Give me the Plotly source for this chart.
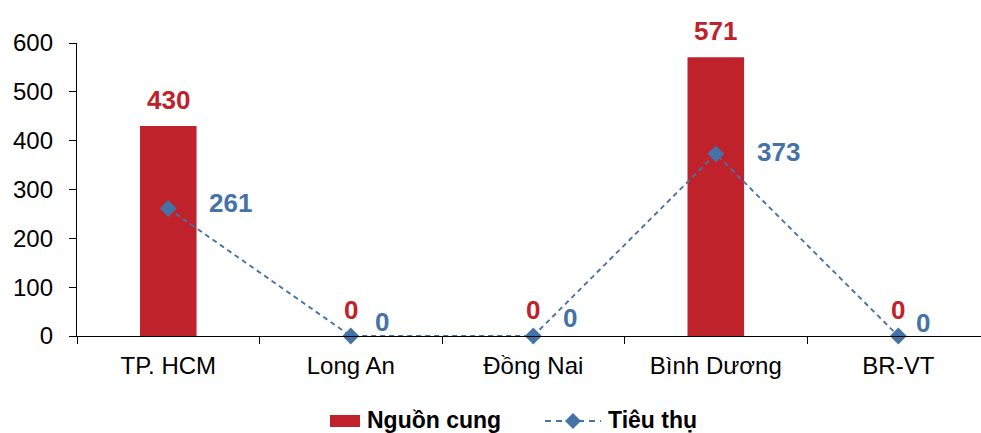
import plotly.graph_objects as go

# Regions and values (units)
regions = ["TP. HCM", "Long An", "Đồng Nai", "Bình Dương", "BR-VT"]
supply = [430, 0, 0, 571, 0]        # Nguồn cung
consumption = [261, 0, 0, 373, 0]   # Tiêu thụ

# Per-point label nudges for the consumption labels (pixels: right, up)
cons_label_shift = [(62, 6), (31, 14), (37, 18), (63, 2), (25, 13)]

RED = "#C0222B"
BLUE = "#4573A7"
FONT = "Liberation Sans, Arial, sans-serif"
TICK_SIZE = 24
LABEL_SIZE = 26
LEGEND_SIZE = 23

W, H = 981, 433
ML, MR, MT, MB = 77, 0, 43, 97
PW, PH = W - ML - MR, H - MT - MB

fig = go.Figure()

fig.add_trace(go.Bar(
    x=regions, y=supply, name="Nguồn cung",
    marker=dict(color=RED, line=dict(width=0)),
    width=0.31, showlegend=False,
))

fig.add_trace(go.Scatter(
    x=regions, y=consumption, name="Tiêu thụ", mode="lines+markers",
    line=dict(color=BLUE, width=1.9, dash="5px,4px"),
    marker=dict(symbol="diamond", size=13, color=BLUE),
    showlegend=False, cliponaxis=False,
))

annotations = []
for r, v in zip(regions, supply):
    annotations.append(dict(
        x=r, y=v, text=f"<b>{v}</b>", showarrow=False,
        xanchor="center", yanchor="bottom", yshift=9,
        font=dict(family=FONT, size=LABEL_SIZE, color=RED),
    ))
for r, v, (dx, dy) in zip(regions, consumption, cons_label_shift):
    annotations.append(dict(
        x=r, y=v, text=f"<b>{v}</b>", showarrow=False,
        xanchor="center", yanchor="middle", xshift=dx, yshift=dy,
        font=dict(family=FONT, size=LABEL_SIZE, color=BLUE),
    ))


def px_x(p):
    return (p - ML) / PW


def px_y(p):
    return (H - MB - p) / PH


# Legend drawn below the plot
LEG_Y = 420
shapes = [
    dict(type="rect", xref="paper", yref="paper",
         x0=px_x(330), x1=px_x(360), y0=px_y(427), y1=px_y(415),
         fillcolor=RED, line=dict(width=0)),
    dict(type="line", xref="paper", yref="paper",
         x0=px_x(545), x1=px_x(601), y0=px_y(421), y1=px_y(421),
         line=dict(color=BLUE, width=1.9, dash="6px,5px")),
    dict(type="path", xref="paper", yref="paper",
         xsizemode="pixel", ysizemode="pixel",
         xanchor=px_x(573), yanchor=px_y(421),
         path="M 0 8 L 8 0 L 0 -8 L -8 0 Z",
         fillcolor=BLUE, line=dict(width=0)),
]
annotations += [
    dict(xref="paper", yref="paper", x=px_x(365), y=px_y(LEG_Y),
         text="<b>Nguồn cung</b>", showarrow=False,
         xanchor="left", yanchor="middle",
         font=dict(family=FONT, size=LEGEND_SIZE, color="#000000")),
    dict(xref="paper", yref="paper", x=px_x(606), y=px_y(LEG_Y),
         text="<b>Tiêu thụ</b>", showarrow=False,
         xanchor="left", yanchor="middle",
         font=dict(family=FONT, size=LEGEND_SIZE, color="#000000")),
]

fig.update_layout(
    width=W, height=H,
    margin=dict(l=ML, r=MR, t=MT, b=MB, pad=0),
    paper_bgcolor="white", plot_bgcolor="white",
    font=dict(family=FONT, size=TICK_SIZE, color="#000000"),
    annotations=annotations, shapes=shapes,
    showlegend=False,
)

fig.update_xaxes(
    type="category", range=[-0.5, 4.453],
    showline=True, linecolor="#000000", linewidth=1.3,
    ticks="outside", tickson="boundaries", ticklen=7, tickwidth=1.3,
    tickcolor="#000000", showgrid=False, zeroline=False,
    tickfont=dict(family=FONT, size=TICK_SIZE, color="#000000"),
    ticklabelstandoff=8,
)
fig.update_yaxes(
    range=[0, 600], tickvals=[0, 100, 200, 300, 400, 500, 600],
    showline=True, linecolor="#000000", linewidth=1.3,
    ticks="outside", ticklen=7, tickwidth=1.3, tickcolor="#000000",
    showgrid=False, zeroline=False,
    tickfont=dict(family=FONT, size=TICK_SIZE, color="#000000"),
    ticklabelstandoff=11,
)

fig.write_html("out.html")
